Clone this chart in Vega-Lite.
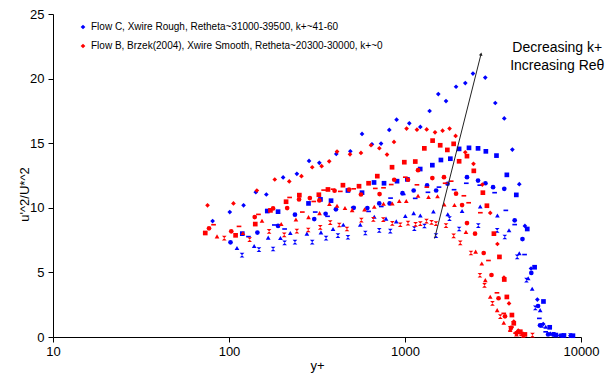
{
"$schema": "https://vega.github.io/schema/vega-lite/v6.json",
"width": 528, "height": 323,
"autosize": {"type": "none"},
"padding": {"left": 53, "top": 14, "right": 27, "bottom": 39},
"background": "white",
"config": {
  "font": "Liberation Sans",
  "view": {"stroke": null},
  "axis": {"domainColor": "black", "tickColor": "black", "labelColor": "black", "titleColor": "black", "labelFontSize": 13, "titleFontSize": 13, "titleFontWeight": "normal", "grid": false, "tickSize": 5, "domainWidth": 1, "tickWidth": 1}
},
"encoding": {
  "x": {"field": "yplus", "type": "quantitative", "scale": {"type": "log", "domain": [10, 10000], "nice": false}, "axis": {"title": "y+", "values": [10, 100, 1000, 10000], "format": "d", "labelPadding": 3, "titlePadding": 1, "labelFlush": false}},
  "y": {"field": "u2", "type": "quantitative", "scale": {"domain": [0, 25], "nice": false}, "axis": {"title": "u'^2/U*^2", "values": [0, 5, 10, 15, 20, 25], "labelPadding": 4, "titleX": -22, "titleY": 180, "titleBaseline": "bottom", "titleAngle": 270}}
},
"layer": [
 {
  "data": {"values": [
{"flow":"C","profile":1,"yplus":80.7,"u2":8.97},{"flow":"C","profile":1,"yplus":101,"u2":9.67},{"flow":"C","profile":1,"yplus":121,"u2":10.19},{"flow":"C","profile":1,"yplus":142,"u2":11.21},{"flow":"C","profile":1,"yplus":163,"u2":11.03},{"flow":"C","profile":1,"yplus":203,"u2":12.35},{"flow":"C","profile":1,"yplus":243,"u2":12.63},{"flow":"C","profile":1,"yplus":285,"u2":13.63},{"flow":"C","profile":1,"yplus":326,"u2":13.48},{"flow":"C","profile":1,"yplus":407,"u2":14.17},{"flow":"C","profile":1,"yplus":489,"u2":14.37},{"flow":"C","profile":1,"yplus":570,"u2":15.72},{"flow":"C","profile":1,"yplus":649,"u2":14.92},{"flow":"C","profile":1,"yplus":731,"u2":14.97},{"flow":"C","profile":1,"yplus":814,"u2":16.03},{"flow":"C","profile":1,"yplus":896,"u2":16.82},{"flow":"C","profile":1,"yplus":1058,"u2":16.54},{"flow":"C","profile":1,"yplus":1222,"u2":16.26},{"flow":"C","profile":1,"yplus":1380,"u2":17.49},{"flow":"C","profile":1,"yplus":1546,"u2":18.8},{"flow":"C","profile":1,"yplus":1710,"u2":18.26},{"flow":"C","profile":1,"yplus":1950,"u2":19.37},{"flow":"C","profile":1,"yplus":2201,"u2":19.65},{"flow":"C","profile":1,"yplus":2433,"u2":20.39},{"flow":"C","profile":1,"yplus":2858,"u2":20.08},{"flow":"C","profile":1,"yplus":3258,"u2":18.11},{"flow":"C","profile":1,"yplus":3665,"u2":16.92},{"flow":"C","profile":1,"yplus":4073,"u2":14.51},{"flow":"C","profile":1,"yplus":4460,"u2":11.83},{"flow":"C","profile":1,"yplus":4800,"u2":8.6},{"flow":"C","profile":1,"yplus":5200,"u2":5.3},{"flow":"C","profile":1,"yplus":5650,"u2":2.9},{"flow":"C","profile":1,"yplus":6100,"u2":1.0},{"flow":"C","profile":1,"yplus":6700,"u2":0.25},{"flow":"C","profile":1,"yplus":7600,"u2":0.12},{"flow":"C","profile":1,"yplus":8700,"u2":0.1},
{"flow":"C","profile":2,"yplus":119,"u2":8.0},{"flow":"C","profile":2,"yplus":165,"u2":9.75},{"flow":"C","profile":2,"yplus":190,"u2":9.7},{"flow":"C","profile":2,"yplus":283,"u2":10.34},{"flow":"C","profile":2,"yplus":331,"u2":10.65},{"flow":"C","profile":2,"yplus":380,"u2":10.55},{"flow":"C","profile":2,"yplus":474,"u2":11.34},{"flow":"C","profile":2,"yplus":570,"u2":11.17},{"flow":"C","profile":2,"yplus":667,"u2":11.96},{"flow":"C","profile":2,"yplus":760,"u2":11.9},{"flow":"C","profile":2,"yplus":901,"u2":12.06},{"flow":"C","profile":2,"yplus":1031,"u2":12.2},{"flow":"C","profile":2,"yplus":1220,"u2":13.0},{"flow":"C","profile":2,"yplus":1430,"u2":13.3},{"flow":"C","profile":2,"yplus":1600,"u2":13.7},{"flow":"C","profile":2,"yplus":1810,"u2":13.8},{"flow":"C","profile":2,"yplus":2030,"u2":14.56},{"flow":"C","profile":2,"yplus":2310,"u2":14.64},{"flow":"C","profile":2,"yplus":2600,"u2":14.6},{"flow":"C","profile":2,"yplus":2880,"u2":14.37},{"flow":"C","profile":2,"yplus":3310,"u2":14.04},{"flow":"C","profile":2,"yplus":3790,"u2":12.55},{"flow":"C","profile":2,"yplus":4290,"u2":11.0},{"flow":"C","profile":2,"yplus":4950,"u2":8.36},{"flow":"C","profile":2,"yplus":5450,"u2":5.4},{"flow":"C","profile":2,"yplus":6120,"u2":2.75},{"flow":"C","profile":2,"yplus":6640,"u2":0.75},{"flow":"C","profile":2,"yplus":7200,"u2":0.15},{"flow":"C","profile":2,"yplus":8000,"u2":0.12},{"flow":"C","profile":2,"yplus":9000,"u2":0.1},
{"flow":"C","profile":3,"yplus":111,"u2":6.89},{"flow":"C","profile":3,"yplus":139,"u2":7.05},{"flow":"C","profile":3,"yplus":167,"u2":7.69},{"flow":"C","profile":3,"yplus":196,"u2":7.66},{"flow":"C","profile":3,"yplus":223,"u2":8.05},{"flow":"C","profile":3,"yplus":277,"u2":8.0},{"flow":"C","profile":3,"yplus":333,"u2":8.1},{"flow":"C","profile":3,"yplus":390,"u2":8.36},{"flow":"C","profile":3,"yplus":446,"u2":8.69},{"flow":"C","profile":3,"yplus":557,"u2":8.69},{"flow":"C","profile":3,"yplus":669,"u2":9.31},{"flow":"C","profile":3,"yplus":780,"u2":9.16},{"flow":"C","profile":3,"yplus":892,"u2":8.95},{"flow":"C","profile":3,"yplus":1004,"u2":9.36},{"flow":"C","profile":3,"yplus":1120,"u2":9.59},{"flow":"C","profile":3,"yplus":1222,"u2":9.41},{"flow":"C","profile":3,"yplus":1450,"u2":9.72},{"flow":"C","profile":3,"yplus":1750,"u2":9.5},{"flow":"C","profile":3,"yplus":2110,"u2":9.75},{"flow":"C","profile":3,"yplus":2675,"u2":10.1},{"flow":"C","profile":3,"yplus":3350,"u2":9.41},{"flow":"C","profile":3,"yplus":3900,"u2":8.26},{"flow":"C","profile":3,"yplus":4460,"u2":6.48},{"flow":"C","profile":3,"yplus":5010,"u2":4.55},{"flow":"C","profile":3,"yplus":5280,"u2":3.73},{"flow":"C","profile":3,"yplus":5860,"u2":2.08},{"flow":"C","profile":3,"yplus":6300,"u2":0.8},{"flow":"C","profile":3,"yplus":6900,"u2":0.25},
{"flow":"C","profile":4,"yplus":118.6,"u2":6.33},{"flow":"C","profile":4,"yplus":148,"u2":6.77},{"flow":"C","profile":4,"yplus":178,"u2":6.81},{"flow":"C","profile":4,"yplus":207,"u2":7.28},{"flow":"C","profile":4,"yplus":237,"u2":7.35},{"flow":"C","profile":4,"yplus":297,"u2":7.35},{"flow":"C","profile":4,"yplus":356,"u2":7.66},{"flow":"C","profile":4,"yplus":416,"u2":7.85},{"flow":"C","profile":4,"yplus":474,"u2":7.72},{"flow":"C","profile":4,"yplus":595,"u2":8.05},{"flow":"C","profile":4,"yplus":714,"u2":8.26},{"flow":"C","profile":4,"yplus":825,"u2":8.2},{"flow":"C","profile":4,"yplus":1130,"u2":8.39},{"flow":"C","profile":4,"yplus":1290,"u2":8.59},{"flow":"C","profile":4,"yplus":1500,"u2":7.85},{"flow":"C","profile":4,"yplus":1790,"u2":9.16},{"flow":"C","profile":4,"yplus":2030,"u2":8.36},{"flow":"C","profile":4,"yplus":2610,"u2":8.62},{"flow":"C","profile":4,"yplus":3340,"u2":8.26},{"flow":"C","profile":4,"yplus":3690,"u2":7.74},{"flow":"C","profile":4,"yplus":4340,"u2":6.2},{"flow":"C","profile":4,"yplus":4900,"u2":4.4},{"flow":"C","profile":4,"yplus":5500,"u2":2.26},{"flow":"C","profile":4,"yplus":6000,"u2":0.9},{"flow":"C","profile":4,"yplus":7000,"u2":0.2},{"flow":"C","profile":4,"yplus":8700,"u2":0.1},
{"flow":"C","profile":5,"yplus":129,"u2":7.77},{"flow":"C","profile":5,"yplus":181,"u2":8.67},{"flow":"C","profile":5,"yplus":207,"u2":8.36},{"flow":"C","profile":5,"yplus":309,"u2":9.67},{"flow":"C","profile":5,"yplus":363,"u2":9.34},{"flow":"C","profile":5,"yplus":508,"u2":10.03},{"flow":"C","profile":5,"yplus":621,"u2":9.72},{"flow":"C","profile":5,"yplus":733,"u2":10.1},{"flow":"C","profile":5,"yplus":828,"u2":10.75},{"flow":"C","profile":5,"yplus":977,"u2":11.03},{"flow":"C","profile":5,"yplus":1143,"u2":10.73},{"flow":"C","profile":5,"yplus":1350,"u2":11.2},{"flow":"C","profile":5,"yplus":1560,"u2":11.6},{"flow":"C","profile":5,"yplus":1900,"u2":11.4},{"flow":"C","profile":5,"yplus":2230,"u2":11.9},{"flow":"C","profile":5,"yplus":2660,"u2":11.75},{"flow":"C","profile":5,"yplus":3230,"u2":11.17},{"flow":"C","profile":5,"yplus":3740,"u2":9.8},{"flow":"C","profile":5,"yplus":4200,"u2":8.7},{"flow":"C","profile":5,"yplus":4780,"u2":6.38},{"flow":"C","profile":5,"yplus":5800,"u2":1.44},{"flow":"C","profile":5,"yplus":6300,"u2":0.4},{"flow":"C","profile":5,"yplus":7000,"u2":0.15},
{"flow":"C","profile":6,"yplus":102,"u2":7.33},{"flow":"C","profile":6,"yplus":145,"u2":8.08},{"flow":"C","profile":6,"yplus":190,"u2":8.6},{"flow":"C","profile":6,"yplus":237,"u2":9.47},{"flow":"C","profile":6,"yplus":305,"u2":9.13},{"flow":"C","profile":6,"yplus":354,"u2":9.54},{"flow":"C","profile":6,"yplus":405,"u2":9.88},{"flow":"C","profile":6,"yplus":511,"u2":10.0},{"flow":"C","profile":6,"yplus":611,"u2":9.98},{"flow":"C","profile":6,"yplus":714,"u2":10.34},{"flow":"C","profile":6,"yplus":818,"u2":10.34},{"flow":"C","profile":6,"yplus":968,"u2":11.13},{"flow":"C","profile":6,"yplus":1120,"u2":11.34},{"flow":"C","profile":6,"yplus":1335,"u2":11.73},{"flow":"C","profile":6,"yplus":1503,"u2":11.34},{"flow":"C","profile":6,"yplus":1745,"u2":11.86},{"flow":"C","profile":6,"yplus":2250,"u2":12.37},{"flow":"C","profile":6,"yplus":2600,"u2":12.11},{"flow":"C","profile":6,"yplus":2865,"u2":11.9},{"flow":"C","profile":6,"yplus":3165,"u2":11.6},{"flow":"C","profile":6,"yplus":3665,"u2":11.47},{"flow":"C","profile":6,"yplus":4200,"u2":9.03},{"flow":"C","profile":6,"yplus":4650,"u2":7.58},{"flow":"C","profile":6,"yplus":5220,"u2":4.96},{"flow":"C","profile":6,"yplus":5700,"u2":2.4},{"flow":"C","profile":6,"yplus":5850,"u2":0.9},{"flow":"C","profile":6,"yplus":6500,"u2":0.2},{"flow":"C","profile":6,"yplus":7800,"u2":0.1},
{"flow":"B","profile":1,"yplus":75.5,"u2":10.19},{"flow":"B","profile":1,"yplus":106,"u2":10.34},{"flow":"B","profile":1,"yplus":144,"u2":11.34},{"flow":"B","profile":1,"yplus":182,"u2":12.19},{"flow":"B","profile":1,"yplus":220,"u2":12.04},{"flow":"B","profile":1,"yplus":258,"u2":12.45},{"flow":"B","profile":1,"yplus":297,"u2":13.14},{"flow":"B","profile":1,"yplus":336,"u2":13.22},{"flow":"B","profile":1,"yplus":371,"u2":13.6},{"flow":"B","profile":1,"yplus":411,"u2":14.35},{"flow":"B","profile":1,"yplus":487,"u2":14.14},{"flow":"B","profile":1,"yplus":562,"u2":14.25},{"flow":"B","profile":1,"yplus":641,"u2":14.84},{"flow":"B","profile":1,"yplus":715,"u2":14.61},{"flow":"B","profile":1,"yplus":790,"u2":14.12},{"flow":"B","profile":1,"yplus":866,"u2":15.1},{"flow":"B","profile":1,"yplus":1021,"u2":16.13},{"flow":"B","profile":1,"yplus":1169,"u2":16.05},{"flow":"B","profile":1,"yplus":1328,"u2":16.07},{"flow":"B","profile":1,"yplus":1481,"u2":15.84},{"flow":"B","profile":1,"yplus":1635,"u2":15.97},{"flow":"B","profile":1,"yplus":1791,"u2":16.13},{"flow":"B","profile":1,"yplus":1939,"u2":15.56},{"flow":"B","profile":1,"yplus":2200,"u2":14.3},{"flow":"B","profile":1,"yplus":2450,"u2":13.4},{"flow":"B","profile":1,"yplus":2750,"u2":11.8},{"flow":"B","profile":1,"yplus":3050,"u2":9.6},{"flow":"B","profile":1,"yplus":3350,"u2":7.2},{"flow":"B","profile":1,"yplus":3650,"u2":4.6},{"flow":"B","profile":1,"yplus":3900,"u2":2.6},{"flow":"B","profile":1,"yplus":4150,"u2":1.2},{"flow":"B","profile":1,"yplus":4400,"u2":0.5},{"flow":"B","profile":1,"yplus":4700,"u2":0.2},
{"flow":"B","profile":2,"yplus":73.3,"u2":8.05},{"flow":"B","profile":2,"yplus":109,"u2":7.87},{"flow":"B","profile":2,"yplus":141,"u2":8.74},{"flow":"B","profile":2,"yplus":172,"u2":9.8},{"flow":"B","profile":2,"yplus":211,"u2":10.47},{"flow":"B","profile":2,"yplus":251,"u2":10.98},{"flow":"B","profile":2,"yplus":324,"u2":11.01},{"flow":"B","profile":2,"yplus":365,"u2":11.42},{"flow":"B","profile":2,"yplus":444,"u2":11.75},{"flow":"B","profile":2,"yplus":548,"u2":11.67},{"flow":"B","profile":2,"yplus":621,"u2":11.9},{"flow":"B","profile":2,"yplus":696,"u2":12.45},{"flow":"B","profile":2,"yplus":844,"u2":13.14},{"flow":"B","profile":2,"yplus":991,"u2":13.53},{"flow":"B","profile":2,"yplus":1144,"u2":13.58},{"flow":"B","profile":2,"yplus":1288,"u2":14.6},{"flow":"B","profile":2,"yplus":1435,"u2":15.2},{"flow":"B","profile":2,"yplus":1585,"u2":14.84},{"flow":"B","profile":2,"yplus":1740,"u2":14.48},{"flow":"B","profile":2,"yplus":1890,"u2":14.95},{"flow":"B","profile":2,"yplus":2030,"u2":13.6},{"flow":"B","profile":2,"yplus":2250,"u2":14.0},{"flow":"B","profile":2,"yplus":2460,"u2":12.86},{"flow":"B","profile":2,"yplus":2770,"u2":11.17},{"flow":"B","profile":2,"yplus":2920,"u2":10.16},{"flow":"B","profile":2,"yplus":3200,"u2":8.0},{"flow":"B","profile":2,"yplus":3440,"u2":6.2},{"flow":"B","profile":2,"yplus":3665,"u2":4.45},{"flow":"B","profile":2,"yplus":3790,"u2":3.1},{"flow":"B","profile":2,"yplus":4050,"u2":1.7},{"flow":"B","profile":2,"yplus":4150,"u2":1.06},{"flow":"B","profile":2,"yplus":4520,"u2":0.41},{"flow":"B","profile":2,"yplus":4800,"u2":0.2},
{"flow":"B","profile":3,"yplus":85.5,"u2":7.79},{"flow":"B","profile":3,"yplus":120,"u2":8.05},{"flow":"B","profile":3,"yplus":154,"u2":9.0},{"flow":"B","profile":3,"yplus":198,"u2":8.74},{"flow":"B","profile":3,"yplus":240,"u2":9.1},{"flow":"B","profile":3,"yplus":283,"u2":9.28},{"flow":"B","profile":3,"yplus":327,"u2":9.59},{"flow":"B","profile":3,"yplus":372,"u2":10.29},{"flow":"B","profile":3,"yplus":411,"u2":10.16},{"flow":"B","profile":3,"yplus":456,"u2":9.98},{"flow":"B","profile":3,"yplus":501,"u2":9.82},{"flow":"B","profile":3,"yplus":589,"u2":9.88},{"flow":"B","profile":3,"yplus":669,"u2":10.08},{"flow":"B","profile":3,"yplus":755,"u2":10.32},{"flow":"B","profile":3,"yplus":847,"u2":10.34},{"flow":"B","profile":3,"yplus":928,"u2":10.52},{"flow":"B","profile":3,"yplus":1017,"u2":10.52},{"flow":"B","profile":3,"yplus":1186,"u2":10.93},{"flow":"B","profile":3,"yplus":1360,"u2":10.83},{"flow":"B","profile":3,"yplus":1530,"u2":10.9},{"flow":"B","profile":3,"yplus":1670,"u2":10.26},{"flow":"B","profile":3,"yplus":1910,"u2":10.21},{"flow":"B","profile":3,"yplus":2220,"u2":8.12},{"flow":"B","profile":3,"yplus":2520,"u2":6.61},{"flow":"B","profile":3,"yplus":2730,"u2":5.69},{"flow":"B","profile":3,"yplus":2860,"u2":4.4},{"flow":"B","profile":3,"yplus":3050,"u2":3.11},{"flow":"B","profile":3,"yplus":3340,"u2":2.08},{"flow":"B","profile":3,"yplus":3640,"u2":1.1},{"flow":"B","profile":3,"yplus":3960,"u2":0.54},{"flow":"B","profile":3,"yplus":4300,"u2":0.2},{"flow":"B","profile":3,"yplus":4700,"u2":0.1},
{"flow":"B","profile":4,"yplus":94,"u2":7.66},{"flow":"B","profile":4,"yplus":131,"u2":7.54},{"flow":"B","profile":4,"yplus":169,"u2":8.18},{"flow":"B","profile":4,"yplus":206,"u2":7.9},{"flow":"B","profile":4,"yplus":243,"u2":8.2},{"flow":"B","profile":4,"yplus":282,"u2":8.28},{"flow":"B","profile":4,"yplus":330,"u2":8.49},{"flow":"B","profile":4,"yplus":376,"u2":8.85},{"flow":"B","profile":4,"yplus":423,"u2":8.67},{"flow":"B","profile":4,"yplus":468,"u2":8.36},{"flow":"B","profile":4,"yplus":565,"u2":9.05},{"flow":"B","profile":4,"yplus":661,"u2":9.1},{"flow":"B","profile":4,"yplus":753,"u2":9.08},{"flow":"B","profile":4,"yplus":847,"u2":8.8},{"flow":"B","profile":4,"yplus":940,"u2":8.69},{"flow":"B","profile":4,"yplus":1040,"u2":8.82},{"flow":"B","profile":4,"yplus":1148,"u2":8.72},{"flow":"B","profile":4,"yplus":1222,"u2":8.77},{"flow":"B","profile":4,"yplus":1325,"u2":8.97},{"flow":"B","profile":4,"yplus":1415,"u2":8.87},{"flow":"B","profile":4,"yplus":1500,"u2":8.77},{"flow":"B","profile":4,"yplus":1710,"u2":8.62},{"flow":"B","profile":4,"yplus":1890,"u2":7.82},{"flow":"B","profile":4,"yplus":2060,"u2":7.28},{"flow":"B","profile":4,"yplus":2370,"u2":6.5},{"flow":"B","profile":4,"yplus":2665,"u2":4.78},{"flow":"B","profile":4,"yplus":2830,"u2":4.0},{"flow":"B","profile":4,"yplus":3140,"u2":2.6},{"flow":"B","profile":4,"yplus":3480,"u2":1.57},{"flow":"B","profile":4,"yplus":3960,"u2":0.67},{"flow":"B","profile":4,"yplus":4600,"u2":0.23},{"flow":"B","profile":4,"yplus":5300,"u2":0.15},
{"flow":"B","profile":5,"yplus":81.7,"u2":8.69},{"flow":"B","profile":5,"yplus":114,"u2":8.56},{"flow":"B","profile":5,"yplus":147,"u2":9.49},{"flow":"B","profile":5,"yplus":221,"u2":10.8},{"flow":"B","profile":5,"yplus":261,"u2":9.67},{"flow":"B","profile":5,"yplus":303,"u2":10.49},{"flow":"B","profile":5,"yplus":345,"u2":11.37},{"flow":"B","profile":5,"yplus":390,"u2":11.44},{"flow":"B","profile":5,"yplus":429,"u2":11.27},{"flow":"B","profile":5,"yplus":511,"u2":11.47},{"flow":"B","profile":5,"yplus":678,"u2":11.5},{"flow":"B","profile":5,"yplus":755,"u2":11.55},{"flow":"B","profile":5,"yplus":835,"u2":11.8},{"flow":"B","profile":5,"yplus":1004,"u2":12.37},{"flow":"B","profile":5,"yplus":1169,"u2":11.78},{"flow":"B","profile":5,"yplus":1330,"u2":11.6},{"flow":"B","profile":5,"yplus":1690,"u2":11.9},{"flow":"B","profile":5,"yplus":1830,"u2":12.06},{"flow":"B","profile":5,"yplus":2160,"u2":10.93},{"flow":"B","profile":5,"yplus":2300,"u2":10.39},{"flow":"B","profile":5,"yplus":2680,"u2":9.62},{"flow":"B","profile":5,"yplus":2980,"u2":5.92},{"flow":"B","profile":5,"yplus":3330,"u2":3.42},{"flow":"B","profile":5,"yplus":3640,"u2":1.83},{"flow":"B","profile":5,"yplus":4030,"u2":0.77},{"flow":"B","profile":5,"yplus":4250,"u2":0.3},{"flow":"B","profile":5,"yplus":4600,"u2":0.15},
{"flow":"B","profile":6,"yplus":77,"u2":8.41},{"flow":"B","profile":6,"yplus":103,"u2":8.18},{"flow":"B","profile":6,"yplus":140,"u2":9.28},{"flow":"B","profile":6,"yplus":178,"u2":9.95},{"flow":"B","profile":6,"yplus":214,"u2":9.98},{"flow":"B","profile":6,"yplus":250,"u2":10.65},{"flow":"B","profile":6,"yplus":288,"u2":10.75},{"flow":"B","profile":6,"yplus":326,"u2":10.57},{"flow":"B","profile":6,"yplus":398,"u2":11.32},{"flow":"B","profile":6,"yplus":481,"u2":11.4},{"flow":"B","profile":6,"yplus":562,"u2":11.03},{"flow":"B","profile":6,"yplus":717,"u2":11.06},{"flow":"B","profile":6,"yplus":868,"u2":12.17},{"flow":"B","profile":6,"yplus":1040,"u2":12.17},{"flow":"B","profile":6,"yplus":1186,"u2":12.91},{"flow":"B","profile":6,"yplus":1430,"u2":12.3},{"flow":"B","profile":6,"yplus":1665,"u2":12.37},{"flow":"B","profile":6,"yplus":1950,"u2":11.09},{"flow":"B","profile":6,"yplus":2110,"u2":10.21},{"flow":"B","profile":6,"yplus":2250,"u2":8.82},{"flow":"B","profile":6,"yplus":2500,"u2":8.0},{"flow":"B","profile":6,"yplus":2800,"u2":6.5},{"flow":"B","profile":6,"yplus":3100,"u2":4.8},{"flow":"B","profile":6,"yplus":3400,"u2":3.0},{"flow":"B","profile":6,"yplus":3700,"u2":1.6},{"flow":"B","profile":6,"yplus":4000,"u2":0.7},{"flow":"B","profile":6,"yplus":4300,"u2":0.3}
  ]},
  "mark": {"type": "point", "filled": true, "opacity": 1, "size": 22},
  "encoding": {
    "color": {"field": "flow", "type": "nominal", "scale": {"domain": ["C", "B"], "range": ["#0000FF", "#FF0000"]},
      "legend": {"orient": "none", "legendX": 25, "legendY": 8, "title": null, "symbolType": "diamond", "symbolSize": 22, "labelFontSize": 10, "labelColor": "black", "labelLimit": 0, "rowPadding": 9, "labelOffset": 3, "padding": 0,
        "labelExpr": "datum.label === 'C' ? 'Flow C, Xwire Rough, Retheta~31000-39500, k+~41-60' : 'Flow B, Brzek(2004), Xwire Smooth, Retheta~20300-30000, k+~0'"}},
    "shape": {"field": "profile", "type": "nominal", "scale": {"domain": [1, 2, 3, 4, 5, 6], "range": ["diamond", "square", "triangle-up", "M-1,-1L1,-1L-1,1L1,1Z", "M-1,-0.35L1,-0.35L1,0.35L-1,0.35Z", "circle"]}, "legend": null}
  }
 },
 {
  "data": {"values": [{"yplus": 1473, "u2": 7.62, "yplus2": 2704, "u2b": 21.9}]},
  "mark": {"type": "rule", "color": "#222222", "strokeWidth": 1},
  "encoding": {"x2": {"field": "yplus2"}, "y2": {"field": "u2b"}}
 },
 {
  "data": {"values": [{"yplus": 2704, "u2": 21.9}]},
  "mark": {"type": "point", "shape": "triangle-up", "filled": true, "opacity": 1, "size": 14, "angle": 14, "color": "#222222"},
  "encoding": {}
 },
 {
  "data": {"values": [{"yplus": 7330, "u2": 22.07, "label": "Decreasing k+"}, {"yplus": 7330, "u2": 20.68, "label": "Increasing Reθ"}]},
  "mark": {"type": "text", "align": "center", "baseline": "alphabetic", "fontSize": 14, "color": "black"},
  "encoding": {"text": {"field": "label"}}
 }
]
}
